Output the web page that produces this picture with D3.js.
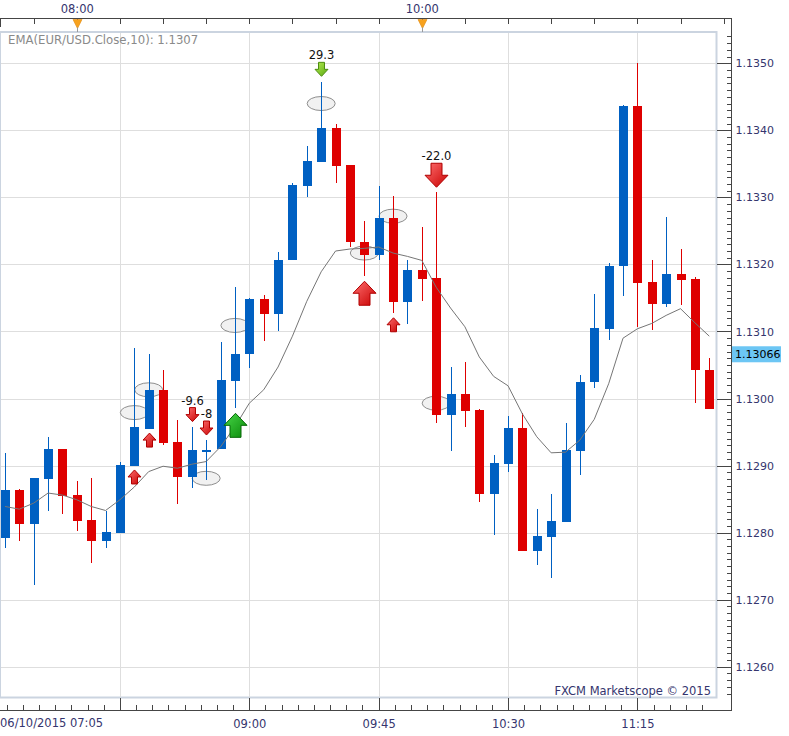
<!DOCTYPE html>
<html>
<head>
<meta charset="utf-8">
<script src="https://cdn.jsdelivr.net/npm/d3@7"></script>
<style>
  body { margin: 0; background: #fff; }
  svg { display: block; }
  text { font-family: "DejaVu Sans", Verdana, sans-serif; }
</style>
</head>
<body>
<svg id="chart" width="789" height="736"></svg>
<script>
// EUR/USD 5 minute bars, 06/10/2015
var times = ['07:35','07:40','07:45','07:50','07:55','08:00','08:05','08:10','08:15','08:20',
             '08:25','08:30','08:35','08:40','08:45','08:50','08:55','09:00','09:05','09:10',
             '09:15','09:20','09:25','09:30','09:35','09:40','09:45','09:50','09:55','10:00',
             '10:05','10:10','10:15','10:20','10:25','10:30','10:35','10:40','10:45','10:50',
             '10:55','11:00','11:05','11:10','11:15','11:20','11:25','11:30','11:35','11:40'];
var opens  = [1.12792,1.12864,1.12813,1.12880,1.12925,1.12856,1.12819,1.12788,1.12800,1.12900,
              1.12955,1.13013,1.12935,1.12883,1.12923,1.12924,1.13026,1.13067,1.13148,1.13126,
              1.13206,1.13317,1.13353,1.13404,1.13348,1.13233,1.13214,1.13269,1.13144,1.13192,
              1.13180,1.12976,1.13007,1.12983,1.12858,1.12903,1.12956,1.12773,1.12794,1.12816,
              1.12922,1.13024,1.13104,1.13197,1.13436,1.13174,1.13141,1.13186,1.13178,1.13043];
var highs  = [1.12918,1.12865,1.12881,1.12943,1.12925,1.12877,1.12881,1.12832,1.12905,1.13075,
              1.13066,1.13043,1.12968,1.12958,1.12938,1.13084,1.13167,1.13150,1.13154,1.13219,
              1.13321,1.13377,1.13472,1.13410,1.13348,1.13265,1.13317,1.13302,1.13207,1.13256,
              1.13308,1.13047,1.13055,1.12984,1.12916,1.12974,1.12979,1.12835,1.12858,1.12964,
              1.13035,1.13156,1.13202,1.13438,1.13500,1.13206,1.13271,1.13223,1.13181,1.13061];
var lows   = [1.12777,1.12788,1.12722,1.12832,1.12828,1.12803,1.12754,1.12777,1.12800,1.12900,
              1.12955,1.12930,1.12843,1.12866,1.12878,1.12924,1.12986,1.13046,1.13086,1.13101,
              1.13206,1.13301,1.13353,1.13322,1.13226,1.13183,1.13207,1.13128,1.13111,1.13146,
              1.12963,1.12922,1.12957,1.12846,1.12797,1.12891,1.12773,1.12751,1.12733,1.12816,
              1.12886,1.13016,1.13087,1.13153,1.13106,1.13102,1.13137,1.13140,1.12994,1.12985];
var closes = [1.12864,1.12813,1.12881,1.12925,1.12855,1.12818,1.12788,1.12801,1.12901,1.12957,
              1.13013,1.12934,1.12883,1.12923,1.12923,1.13028,1.13067,1.13148,1.13126,1.13207,
              1.13319,1.13354,1.13404,1.13347,1.13233,1.13214,1.13269,1.13144,1.13192,1.13179,
              1.12976,1.13007,1.12982,1.12858,1.12904,1.12956,1.12773,1.12795,1.12818,1.12923,
              1.13025,1.13105,1.13198,1.13436,1.13173,1.13141,1.13186,1.13177,1.13042,1.12985];
var emaValues = [1.12839,1.12835,1.12844,1.12859,1.12856,1.12849,1.12839,1.12833,1.12849,1.12868,
                 1.12891,1.12899,1.12896,1.12902,1.12906,1.12928,1.12958,1.12993,1.13013,1.13047,
                 1.13093,1.13145,1.13189,1.13220,1.13223,1.13224,1.13226,1.13217,1.13212,1.13206,
                 1.13166,1.13135,1.13107,1.13062,1.13033,1.13019,1.12977,1.12943,1.12919,1.12920,
                 1.12938,1.12969,1.13022,1.13090,1.13104,1.13112,1.13124,1.13134,1.13113,1.13093];

// trade signals
var signalTimes  = ['08:20','08:25','08:40','08:45','08:55','09:25','09:40','09:50','10:05'];
var signalPrices = [1.12883,1.12938,1.12976,1.12956,1.12960,1.13491,1.13157,1.13110,1.13333];
var signalKinds  = ['shortExit','shortExit','lossExit','lossExit','longEntry','longExit','shortCover','shortExit','shortEntry'];
var signalTexts  = ['','','-9.6','-8','','29.3','','','-22.0'];

// highlighted levels (ellipses)
var zoneTimes  = ['08:20','08:25','08:45','08:55','09:25','09:40','09:50','10:05'];
var zonePrices = [1.12979,1.13013,1.12881,1.13109,1.13440,1.13217,1.13272,1.12993];

var yTicks = [1.1260,1.1270,1.1280,1.1290,1.1300,1.1310,1.1320,1.1330,1.1340,1.1350];
var xTicks = ['08:15','09:00','09:45','10:30','11:15'];
var xTickLabels = ['','09:00','09:45','10:30','11:15'];
var firstLabel = '06/10/2015 07:05';
var topMarks = ['08:00','10:00'];
var emaLabel = 'EMA(EUR/USD.Close,10): 1.1307';
var lastPrice = 1.13066;
var copyright = 'FXCM Marketscope \u00a9 2015';

var svg = d3.select('#chart');
var parse = d3.timeParse('%H:%M');

var plotLeft = 0, plotRight = 716.5, plotTop = 32, plotBottom = 697.5;
var axisX = 731.5, axisTopY = 18.5, axisBottomY = 710.5;

var x = d3.scaleTime()
    .domain([parse('09:00'), parse('11:15')])
    .range([249.3, 637.4]);
var y = d3.scaleLinear()
    .domain([1.1260, 1.1350])
    .range([666.7, 63.3]);

var blue = '#0060c2', red = '#de0000', axisCol = '#454545', labelCol = '#35356e';

// gradients for arrows
var defs = svg.append('defs');
function grad(id, c1, c2) {
    var g = defs.append('linearGradient').attr('id', id)
        .attr('x1', 0).attr('y1', 0).attr('x2', 1).attr('y2', 1);
    g.append('stop').attr('offset', '0%').attr('stop-color', c1);
    g.append('stop').attr('offset', '100%').attr('stop-color', c2);
}
grad('gRed', '#ff7070', '#c80000');
grad('gGreen', '#48d848', '#0a880a');
grad('gLime', '#b4ec50', '#5aa812');

// plot frame and grid
svg.append('rect')
    .attr('x', plotLeft).attr('y', plotTop)
    .attr('width', plotRight - plotLeft).attr('height', plotBottom - plotTop)
    .attr('fill', '#fff').attr('stroke', '#cbd4e0').attr('stroke-width', 2);

var grid = svg.append('g').attr('shape-rendering', 'crispEdges');
grid.selectAll('line.h').data(yTicks).enter().append('line')
    .attr('x1', plotLeft + 1).attr('x2', plotRight - 1)
    .attr('y1', function(d) { return Math.round(y(d)) + 0.5; })
    .attr('y2', function(d) { return Math.round(y(d)) + 0.5; })
    .attr('stroke', '#dedede');
grid.selectAll('line.v').data(xTicks).enter().append('line')
    .attr('x1', function(d) { return Math.round(x(parse(d))) + 0.5; })
    .attr('x2', function(d) { return Math.round(x(parse(d))) + 0.5; })
    .attr('y1', plotTop + 1).attr('y2', plotBottom - 1)
    .attr('stroke', '#dedede');

// ellipses behind the candles
svg.append('g').selectAll('ellipse').data(zoneTimes).enter().append('ellipse')
    .attr('cx', function(d) { return x(parse(d)); })
    .attr('cy', function(d, i) { return y(zonePrices[i]); })
    .attr('rx', 14).attr('ry', 7)
    .attr('fill', '#f1f1f1').attr('stroke', '#8e8e8e').attr('stroke-width', 1);

// candles
var bars = svg.append('g').attr('shape-rendering', 'crispEdges');
times.forEach(function(t, i) {
    var cx = Math.round(x(parse(t)));
    var col = closes[i] >= opens[i] ? blue : red;
    bars.append('line')
        .attr('x1', cx + 0.5).attr('x2', cx + 0.5)
        .attr('y1', y(highs[i])).attr('y2', y(lows[i]))
        .attr('stroke', col).attr('stroke-width', 1);
    var top = y(Math.max(opens[i], closes[i])), bot = y(Math.min(opens[i], closes[i]));
    bars.append('rect')
        .attr('x', cx - 4).attr('width', 9)
        .attr('y', top).attr('height', Math.max(bot - top, 1.5))
        .attr('fill', col);
});

// EMA line
var line = d3.line()
    .x(function(d, i) { return x(parse(times[i])); })
    .y(function(d) { return y(d); });
svg.append('path').datum(emaValues)
    .attr('d', line)
    .attr('fill', 'none').attr('stroke', '#767676').attr('stroke-width', 1);

// signal arrows
var kindStyle = {
    longEntry:  { dir: 'up',   big: true,  fill: 'url(#gGreen)', stroke: '#066806' },
    longExit:   { dir: 'down', big: false, fill: 'url(#gLime)',  stroke: '#4c8c10' },
    shortEntry: { dir: 'down', big: true,  fill: 'url(#gRed)',   stroke: '#b00000' },
    shortCover: { dir: 'up',   big: true,  fill: 'url(#gRed)',   stroke: '#b00000' },
    shortExit:  { dir: 'up',   big: false, fill: 'url(#gRed)',   stroke: '#b00000' },
    lossExit:   { dir: 'down', big: false, fill: 'url(#gRed)',   stroke: '#b00000' }
};
function arrowPath(cx, cy, st) {
    var w = st.big ? 23 : 13, h = st.big ? 24 : 14, s = st.big ? 11 : 6, hh = st.big ? 12 : 7;
    var k = st.dir === 'up' ? 1 : -1;
    var tip = cy - k * h / 2, base = cy + k * h / 2, neck = tip + k * hh;
    var pts = [[cx, tip], [cx + w / 2, neck], [cx + s / 2, neck], [cx + s / 2, base],
               [cx - s / 2, base], [cx - s / 2, neck], [cx - w / 2, neck]];
    return 'M' + pts.map(function(p) { return p[0] + ',' + p[1]; }).join('L') + 'Z';
}
var sig = svg.append('g');
signalTimes.forEach(function(t, i) {
    var st = kindStyle[signalKinds[i]];
    var cx = Math.round(x(parse(t))) + 0.5, cy = y(signalPrices[i]);
    sig.append('path')
        .attr('d', arrowPath(cx, cy, st))
        .attr('fill', st.fill).attr('stroke', st.stroke).attr('stroke-width', 1);
    if (signalTexts[i]) {
        var h = st.big ? 24 : 14;
        sig.append('text')
            .attr('x', cx).attr('y', cy - h / 2 - 3)
            .attr('text-anchor', 'middle')
            .attr('font-size', 11.5).attr('fill', '#111')
            .text(signalTexts[i]);
    }
});

// right price axis
var yMinor = d3.range(11256, 11355).map(function(v) { return v / 10000; });
svg.append('g').attr('transform', 'translate(' + axisX + ',0)')
    .attr('shape-rendering', 'crispEdges')
    .call(d3.axisRight(y).tickValues(yMinor).tickSize(-5).tickFormat(''))
    .call(function(g) { g.select('.domain').remove(); g.selectAll('line').attr('stroke', axisCol); });
svg.append('g').attr('transform', 'translate(' + axisX + ',0)')
    .attr('shape-rendering', 'crispEdges')
    .call(d3.axisRight(y).tickValues(yTicks).tickSize(-15).tickPadding(4).tickFormat(d3.format('.4f')))
    .call(function(g) {
        g.select('.domain').remove();
        g.selectAll('line').attr('stroke', axisCol);
        g.selectAll('text').attr('font-size', 11).attr('fill', labelCol)
            .attr('font-family', '"DejaVu Sans", Verdana, sans-serif');
    });

// bottom time axis
var minorStep = 45 / 8 * 60000;
var minorTicks = d3.range(-7, 42).map(function(k) { return new Date(+parse('08:15') + k * minorStep); })
    .filter(function(d) { return x(d) < plotRight; });
svg.append('g').attr('transform', 'translate(0,' + axisBottomY + ')')
    .attr('shape-rendering', 'crispEdges')
    .call(d3.axisBottom(x).tickValues(minorTicks).tickSize(-6).tickFormat(''))
    .call(function(g) { g.select('.domain').remove(); g.selectAll('line').attr('stroke', axisCol); });
svg.append('g').attr('transform', 'translate(0,' + axisBottomY + ')')
    .attr('shape-rendering', 'crispEdges')
    .call(d3.axisBottom(x).tickValues(xTicks.map(parse)).tickSize(-13).tickPadding(9)
        .tickFormat(function(d, i) { return xTickLabels[i]; }))
    .call(function(g) {
        g.select('.domain').remove();
        g.selectAll('line').attr('stroke', axisCol);
        g.selectAll('text').attr('font-size', 11.5).attr('fill', labelCol)
            .attr('font-family', '"DejaVu Sans", Verdana, sans-serif');
    });
svg.append('text')
    .attr('x', 0).attr('y', 727)
    .attr('font-size', 11.5).attr('fill', labelCol)
    .text(firstLabel);

// top time axis
var topTicks = d3.timeMinute.every(15).range(parse('07:45'), parse('11:50'));
svg.append('g').attr('transform', 'translate(0,' + axisTopY + ')')
    .attr('shape-rendering', 'crispEdges')
    .call(d3.axisTop(x).tickValues(topTicks).tickSize(-5).tickPadding(6)
        .tickFormat(function(d) { var s = d3.timeFormat('%H:%M')(d); return topMarks.indexOf(s) >= 0 ? s : ''; }))
    .call(function(g) {
        g.select('.domain').remove();
        g.selectAll('line').attr('stroke', axisCol);
        g.selectAll('text').attr('font-size', 11.5).attr('fill', labelCol)
            .attr('font-family', '"DejaVu Sans", Verdana, sans-serif');
    });
svg.append('g').selectAll('path').data(topMarks).enter().append('path')
    .attr('d', function(d) {
        var cx = Math.round(x(parse(d))) + 0.5;
        return 'M' + (cx - 4.5) + ',' + (axisTopY + 1) + 'L' + (cx + 4.5) + ',' + (axisTopY + 1) +
               'L' + cx + ',' + (axisTopY + 10) + 'Z';
    })
    .attr('fill', '#f7a21e').attr('stroke', '#e08a10').attr('stroke-width', 0.6);
svg.append('g').selectAll('line').data(topMarks).enter().append('line')
    .attr('x1', function(d) { return Math.round(x(parse(d))) + 0.5; })
    .attr('x2', function(d) { return Math.round(x(parse(d))) + 0.5; })
    .attr('y1', axisTopY + 9).attr('y2', plotTop)
    .attr('stroke', '#9a9a9a');

// axis lines
var frame = svg.append('g').attr('shape-rendering', 'crispEdges').attr('stroke', axisCol).attr('fill', 'none');
frame.append('path').attr('d', 'M0,' + axisTopY + 'H' + axisX + 'V' + axisBottomY + 'H0');
frame.append('line').attr('x1', 0.5).attr('x2', 0.5).attr('y1', axisTopY).attr('y2', axisTopY + 8);

// last price tag
svg.append('rect')
    .attr('x', axisX + 0.5).attr('y', y(lastPrice) - 8)
    .attr('width', 49).attr('height', 16)
    .attr('fill', '#6cc6f4');
svg.append('text')
    .attr('x', axisX + 3.5).attr('y', y(lastPrice) + 4)
    .attr('font-size', 11).attr('fill', '#000')
    .text(d3.format('.5f')(lastPrice));

// labels inside the plot
svg.append('text')
    .attr('x', 8).attr('y', 44)
    .attr('font-size', 11.7).attr('fill', '#8a8a8a')
    .text(emaLabel);
svg.append('text')
    .attr('x', 711).attr('y', 695)
    .attr('text-anchor', 'end')
    .attr('font-size', 11.5).attr('fill', labelCol)
    .text(copyright);
</script>
</body>
</html>
